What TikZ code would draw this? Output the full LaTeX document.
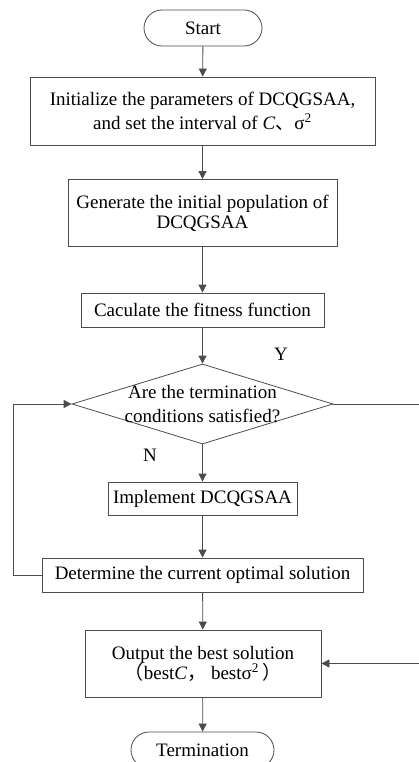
\documentclass[tikz,border=0pt]{standalone}
\usepackage{fontspec}
\setmainfont{Liberation Serif}
\newfontfamily\cjk{Noto Sans CJK SC}
\usetikzlibrary{arrows.meta,shapes.geometric,shapes.misc}
\begin{document}
\begin{tikzpicture}[x=1pt,y=-1pt,
  every node/.style={font=\fontsize{19}{24}\selectfont, text=black},
  box/.style={draw=black!70, line width=0.8pt, rectangle, inner sep=0pt, align=center},
  term/.style={draw=black!70, line width=0.8pt, rounded rectangle, inner sep=0pt},
  dia/.style={draw=black!70, line width=0.8pt, diamond, inner sep=0pt},
  flow/.style={draw=black!70, line width=0.8pt, -{Triangle[length=8pt,width=8pt]}},
  lbl/.style={inner sep=0pt}]
\useasboundingbox (0,0) rectangle (419,762);
\clip (0,0) rectangle (419,762);
\node[term, minimum width=118pt, minimum height=36pt] (start) at (203,28) {Start};
\node[box, minimum width=345pt, minimum height=68pt] (init) at (202.5,111)
  {Initialize the parameters of DCQGSAA,\\and set the interval of \textit{C}{\cjk 、}σ\textsuperscript{2}};
\node[box, minimum width=269pt, minimum height=67pt] (gen) at (202.5,213)
  {Generate the initial population of\\[-4pt]DCQGSAA};
\node[box, minimum width=243pt, minimum height=34pt] (calc) at (202.5,310) {Caculate the fitness function};
\node[dia, minimum width=261pt, minimum height=80pt] (cond) at (202.5,404) {};
\node[lbl, align=center] (condt) at (202.5,404) {Are the termination\\conditions satisfied?};
\node[box, minimum width=189pt, minimum height=33pt] (impl) at (202.5,498.5) {Implement DCQGSAA};
\node[box, minimum width=321pt, minimum height=34pt] (det) at (202.5,575) {Determine the current optimal solution};
\node[box, minimum width=236pt, minimum height=67pt] (out) at (203,663.5)
  {Output the best solution\\[-4pt]{\cjk （}best\textit{C}{\cjk ，} bestσ\textsuperscript{2}\,{\cjk ）}};
\node[term, minimum width=143pt, minimum height=36pt] (end) at (202.5,750) {Termination};
\node[lbl] (ylab) at (281,354) {Y};
\node[lbl] (nlab) at (150,455) {N};
\coordinate (l1) at (13,575);
\coordinate (l2) at (13,404);
\coordinate (r1) at (421,404);
\coordinate (r2) at (421,663.5);
\draw[flow] (start) -- (init);
\draw[flow] (init) -- (gen);
\draw[flow] (gen) -- (calc);
\draw[flow] (calc) -- (cond);
\draw[flow] (cond) -- (impl);
\draw[flow] (impl) -- (det);
\draw[flow] (det) -- (out);
\draw[flow] (out) -- (end);
\draw[flow] (det.west) -- (l1) -- (l2) -- (cond.west);
\draw[flow] (cond.east) -- (r1) -- (r2) -- (out.east);
\end{tikzpicture}
\end{document}
